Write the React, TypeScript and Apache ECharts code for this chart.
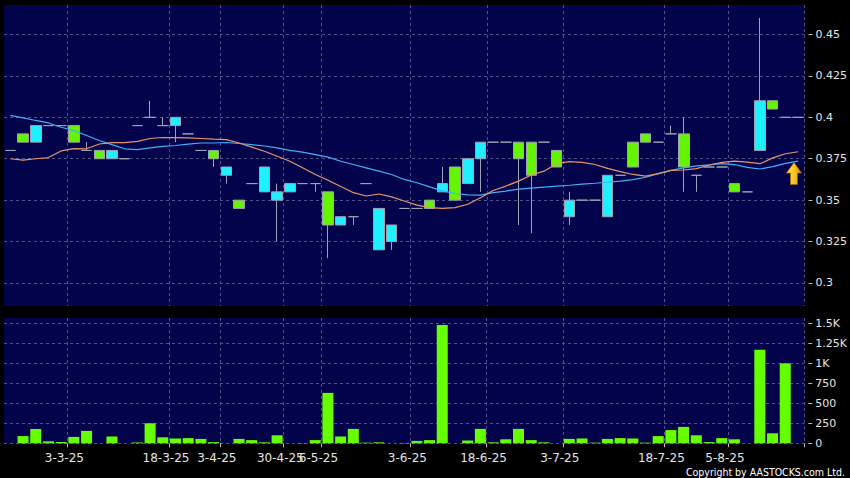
import React, { useEffect, useRef } from 'react';
import * as echarts from 'echarts';

// [open, close, low, high] per trading slot
const opens = [
  0.38, 0.39, 0.385, 0.395, 0.395, 0.395, 0.38, 0.38, 0.375, 0.375,
  0.395, 0.40, 0.395, 0.395, 0.39, 0.38, 0.38, 0.365, 0.35, 0.36,
  0.355, 0.35, 0.355, 0.36, 0.36, 0.355, 0.335, 0.34, 0.36, 0.32,
  0.325, 0.345, 0.345, 0.35, 0.355, 0.37, 0.36, 0.375, 0.385, 0.385,
  0.385, 0.385, 0.385, 0.38, 0.34, 0.35, 0.35, 0.34, 0.365, 0.385,
  0.39, 0.385, 0.39, 0.39, 0.365, 0.37, 0.37, 0.36, 0.355, 0.38,
  0.41, 0.40, 0.40,
];
const closes = [
  0.38, 0.385, 0.395, 0.395, 0.395, 0.385, 0.38, 0.375, 0.38, 0.375,
  0.395, 0.40, 0.395, 0.40, 0.39, 0.38, 0.375, 0.37, 0.345, 0.36,
  0.37, 0.355, 0.36, 0.36, 0.36, 0.335, 0.34, 0.34, 0.36, 0.345,
  0.335, 0.345, 0.345, 0.345, 0.36, 0.35, 0.375, 0.385, 0.385, 0.385,
  0.375, 0.365, 0.385, 0.37, 0.35, 0.35, 0.35, 0.365, 0.365, 0.37,
  0.385, 0.385, 0.39, 0.37, 0.365, 0.37, 0.37, 0.355, 0.355, 0.41,
  0.405, 0.40, 0.40,
];
const lows = [
  0.38, 0.385, 0.385, 0.395, 0.395, 0.385, 0.38, 0.375, 0.375, 0.375,
  0.395, 0.40, 0.395, 0.385, 0.39, 0.38, 0.37, 0.36, 0.345, 0.36,
  0.355, 0.325, 0.355, 0.36, 0.355, 0.315, 0.335, 0.335, 0.36, 0.32,
  0.32, 0.345, 0.345, 0.345, 0.355, 0.35, 0.36, 0.355, 0.385, 0.385,
  0.335, 0.33, 0.385, 0.37, 0.335, 0.35, 0.35, 0.34, 0.365, 0.37,
  0.385, 0.385, 0.39, 0.355, 0.355, 0.37, 0.37, 0.355, 0.355, 0.38,
  0.405, 0.40, 0.40,
];
const highs = [
  0.38, 0.39, 0.395, 0.395, 0.395, 0.395, 0.385, 0.38, 0.38, 0.375,
  0.395, 0.41, 0.40, 0.40, 0.39, 0.38, 0.38, 0.37, 0.35, 0.36,
  0.37, 0.36, 0.36, 0.36, 0.36, 0.355, 0.34, 0.34, 0.36, 0.345,
  0.335, 0.345, 0.345, 0.35, 0.37, 0.37, 0.375, 0.385, 0.385, 0.385,
  0.385, 0.385, 0.385, 0.38, 0.355, 0.35, 0.35, 0.365, 0.365, 0.385,
  0.39, 0.385, 0.395, 0.40, 0.365, 0.37, 0.37, 0.36, 0.355, 0.46,
  0.41, 0.40, 0.40,
];
const volumes = [
  0, 90, 180, 25, 15, 80, 155, 0, 85, 0,
  10, 250, 75, 60, 65, 55, 15, 0, 55, 40,
  12, 100, 0, 3, 40, 630, 85, 180, 8, 12,
  0, 4, 30, 40, 1480, 0, 35, 180, 12, 50,
  180, 40, 12, 0, 55, 60, 8, 55, 65, 60,
  8, 90, 165, 205, 100, 15, 65, 50, 0, 1170,
  125, 1000, 0,
];
// moving averages (orange = short, blue = long)
const maShort = [
  0.375, 0.3742, 0.375, 0.3757, 0.3797, 0.3811, 0.381, 0.3839, 0.3847, 0.3847,
  0.3855, 0.3872, 0.3878, 0.3878, 0.3876, 0.3872, 0.3868, 0.3865, 0.3845, 0.382,
  0.3795, 0.3765, 0.3735, 0.3695, 0.3655, 0.362, 0.3582, 0.3545, 0.3525, 0.3537,
  0.352, 0.3495, 0.347, 0.3455, 0.345, 0.3455, 0.3475, 0.3515, 0.3558, 0.3585,
  0.3615, 0.3652, 0.3675, 0.372, 0.3732, 0.3728, 0.3715, 0.3692, 0.3672, 0.3655,
  0.3645, 0.366, 0.368, 0.3682, 0.369, 0.3712, 0.3728, 0.3735, 0.373, 0.372,
  0.3755, 0.378, 0.3792,
];
const maLong = [
  0.4012, 0.3997, 0.3981, 0.3966, 0.394, 0.392, 0.389, 0.386, 0.3835, 0.381,
  0.3805, 0.3815, 0.3825, 0.383, 0.3838, 0.3845, 0.3845, 0.3848, 0.3842, 0.3835,
  0.3827, 0.3815, 0.38, 0.379, 0.3775, 0.376, 0.3735, 0.3715, 0.3695, 0.3675,
  0.3655, 0.3625, 0.3605, 0.358, 0.3556, 0.354, 0.3532, 0.353, 0.3545, 0.3555,
  0.3567, 0.3573, 0.3579, 0.3585, 0.359, 0.3597, 0.3602, 0.3608, 0.3615, 0.3624,
  0.3638, 0.366, 0.368, 0.3695, 0.3707, 0.3713, 0.372, 0.3715, 0.3698, 0.3688,
  0.3702, 0.3722, 0.3735,
];
const tickSlots = [5, 13, 17, 22, 25, 32, 38, 44, 52, 57];
const tickDates = ['3-3-25', '18-3-25', '3-4-25', '30-4-25', '6-5-25', '3-6-25', '18-6-25', '3-7-25', '18-7-25', '5-8-25'];
const priceTicks = [0.3, 0.325, 0.35, 0.375, 0.4, 0.425, 0.45];
const volumeTicks = [0, 250, 500, 750, 1000, 1250, 1500];

const FONT = 'DejaVu Sans';
const GRID_BG = '#03034b';
const SPLIT = { color: '#4f5088', type: [3, 3] as number[], width: 1 };
const LABEL_COLOR = '#e4e4e4';

export default function App() {
  const ref = useRef<HTMLDivElement>(null);
  useEffect(() => {
    const chart = echarts.init(ref.current!, null, { renderer: 'svg' });
    const categories = opens.map((_, i) => {
      const k = tickSlots.indexOf(i);
      return k >= 0 ? tickDates[k] : `#${i}`;
    });
    const isTick = (i: number) => tickSlots.includes(i);
    const candles = opens.map((o, i) => [o, closes[i], lows[i], highs[i]]);

    chart.setOption({
      animation: false,
      backgroundColor: '#000',
      textStyle: { fontFamily: FONT },
      grid: [
        { left: 4, right: 43, top: 5, height: 301, show: true, backgroundColor: GRID_BG, borderWidth: 0 },
        { left: 4, right: 43, top: 318, height: 125.3, show: true, backgroundColor: GRID_BG, borderWidth: 0 },
      ],
      xAxis: [
        {
          gridIndex: 0, type: 'category', data: categories, boundaryGap: true,
          axisLine: { show: false }, axisTick: { show: false }, axisLabel: { show: false },
          splitLine: { show: true, interval: (i: number) => isTick(i), lineStyle: SPLIT },
        },
        {
          gridIndex: 1, type: 'category', data: categories, boundaryGap: true,
          axisLine: { show: false },
          axisTick: { show: true, interval: (i: number) => isTick(i), length: 4, lineStyle: { color: '#bbbbbb' } },
          axisLabel: {
            interval: (i: number) => isTick(i),
            margin: 9,
            formatter: (v: string) => (v.startsWith('#') ? '' : `{a|${v}}`),
            rich: { a: { padding: [0, 19, 0, 0], color: LABEL_COLOR, fontSize: 12, fontFamily: FONT } },
          },
          splitLine: { show: true, interval: (i: number) => isTick(i), lineStyle: SPLIT },
        },
      ],
      yAxis: [
        {
          gridIndex: 0, type: 'value', position: 'right', min: 0.2861, max: 0.4678, offset: 4, scale: true,
          axisLine: { show: false },
          axisTick: { show: true, customValues: priceTicks, length: 4, lineStyle: { color: '#bbbbbb' } },
          axisLabel: {
            customValues: priceTicks, margin: 7, color: LABEL_COLOR, fontSize: 11, fontFamily: FONT,
            formatter: (v: number) => String(+v.toFixed(3)),
          },
          splitLine: { show: true, lineStyle: SPLIT },
        },
        {
          gridIndex: 1, type: 'value', position: 'right', min: 0, max: 1566, offset: 4,
          axisLine: { show: false },
          axisTick: { show: true, customValues: volumeTicks, length: 4, lineStyle: { color: '#bbbbbb' } },
          axisLabel: {
            customValues: volumeTicks, margin: 7, color: LABEL_COLOR, fontSize: 11, fontFamily: FONT,
            formatter: (v: number) => (v >= 1000 ? `${v / 1000}K` : String(v)),
          },
          splitLine: { show: true, lineStyle: SPLIT },
        },
      ],
      series: [
        {
          type: 'candlestick', xAxisIndex: 0, yAxisIndex: 0, data: candles, barWidth: 11,
          itemStyle: {
            color: '#1ef0ff', color0: '#66f500',
            borderColor: '#9aa4b4', borderColor0: '#9aa4b4', borderColorDoji: '#9aa4b4', borderWidth: 1,
          },
        },
        {
          type: 'line', xAxisIndex: 0, yAxisIndex: 0, data: maLong, symbol: 'none',
          lineStyle: { color: '#3fb0f5', width: 1.2 },
        },
        {
          type: 'line', xAxisIndex: 0, yAxisIndex: 0, data: maShort, symbol: 'none',
          lineStyle: { color: '#e8956e', width: 1.2 },
        },
        {
          type: 'bar', xAxisIndex: 1, yAxisIndex: 1, data: volumes, barWidth: 11,
          itemStyle: { color: '#66ff00' },
        },
      ],
      graphic: [
        {
          type: 'polygon',
          shape: {
            points: [[794, 162.5], [801.5, 173], [797.5, 173], [797.5, 184.5], [790.5, 184.5], [790.5, 173], [786.5, 173]],
          },
          style: {
            fill: new echarts.graphic.LinearGradient(0, 0, 1, 0, [
              { offset: 0, color: '#ffe45a' },
              { offset: 0.6, color: '#f7c014' },
              { offset: 1, color: '#c98400' },
            ]),
            stroke: '#a86a00', lineWidth: 0.6,
          },
        },
        {
          type: 'text', right: 5, top: 466,
          style: { text: 'Copyright by AASTOCKS.com Ltd.', fill: '#ffffff', fontSize: 10.5, fontFamily: 'DejaVu Sans Condensed' },
        },
      ],
    });
    return () => chart.dispose();
  }, []);
  return (
    <div
      ref={ref}
      style={{ position: 'absolute', left: 0, top: 0, width: 850, height: 478, background: '#000' }}
    />
  );
}
